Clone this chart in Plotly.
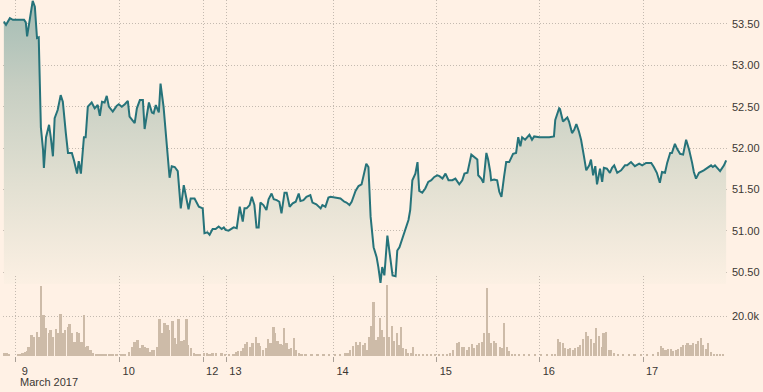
import plotly.graph_objects as go

# ---- data (time in trading hours from 9 March 00:00) ----
price_t = [-2.8,-2.3,-1.4,-0.7,1.9,2.3,2.6,3.2,3.9,4.4,4.9,5.3,5.8,6.3,6.5,7.0,7.7,8.1,8.6,9.0,9.7,10.4,10.9,11.6,12.1,13.0,13.5,14.2,14.6,15.1,15.8,16.2,16.7,17.6,18.3,19.0,19.5,20.0,20.6,21.1,21.6,22.5,23.4,23.9,24.6,25.3,26.0,26.4,27.6,28.1,28.8,29.5,29.9,30.9,31.6,32.0,32.5,33.2,33.6,34.3,35.0,35.7,36.2,36.9,37.6,38.3,39.0,39.7,40.1,40.6,41.5,42.5,43.4,43.8,44.5,45.0,45.7,46.4,47.1,47.8,48.3,48.7,49.4,50.6,51.3,52.0,52.7,53.1,53.6,54.3,54.8,55.4,55.9,56.4,56.8,57.5,58.2,58.7,59.4,59.9,60.6,61.2,61.7,62.4,62.9,63.6,64.3,65.0,65.7,66.1,66.8,67.5,68.4,68.9,69.8,70.8,71.2,71.9,72.6,73.1,74.2,75.4,76.3,76.8,77.5,78.0,78.9,79.6,80.3,81.0,81.4,81.9,82.4,83.1,83.8,84.2,84.7,85.1,85.6,86.3,87.0,87.5,88.2,88.6,89.1,89.8,90.2,90.7,91.2,91.6,92.1,92.8,93.3,93.7,94.4,95.1,95.8,96.5,97.2,97.9,98.4,99.1,99.8,100.5,101.4,102.1,103.0,103.7,104.2,104.9,105.3,105.8,107.2,107.4,108.1,108.6,109.3,109.7,110.2,110.4,111.1,111.8,112.3,112.8,113.4,113.9,114.6,115.1,115.5,116.2,116.7,117.2,117.6,118.3,119.3,119.9,120.4,121.6,122.7,123.9,125.0,125.3,126.2,126.4,127.1,128.1,128.5,129.2,129.7,130.2,130.8,131.3,132.0,132.5,133.2,133.6,134.1,134.6,135.0,135.5,135.7,136.2,136.6,137.3,138.0,138.5,139.0,139.7,140.6,141.5,142.0,142.9,143.8,144.8,145.5,146.4,147.6,148.2,148.9,149.6,150.1,150.8,151.3,152.0,152.4,153.1,153.6,154.3,155.0,155.7,156.4,157.1,157.5,158.0,158.7,159.8,160.8,161.5,161.9,162.4,163.6,164.5,165.0]
price = [53.53,53.49,53.57,53.55,53.55,53.52,53.35,53.55,53.78,53.71,53.33,53.34,52.25,51.98,51.76,52.13,52.28,52.13,51.90,52.36,52.46,52.64,52.56,52.18,51.94,51.94,51.85,51.69,51.84,51.69,52.13,52.13,52.50,52.55,52.48,52.52,52.39,52.56,52.55,52.63,52.50,52.44,52.51,52.53,52.50,52.53,52.57,52.38,52.30,52.48,52.58,52.58,52.23,52.55,52.43,52.42,52.52,52.43,52.78,52.50,52.06,51.64,51.78,51.77,51.72,51.27,51.55,51.39,51.26,51.39,51.39,51.29,51.27,50.97,50.98,50.95,51.02,51.02,51.05,51.02,51.04,51.01,51.00,51.04,51.03,51.29,51.11,51.27,51.27,51.31,51.41,51.31,51.04,51.04,51.34,51.31,51.25,51.38,51.45,51.38,51.37,51.35,51.21,51.46,51.46,51.29,51.33,51.35,51.45,51.36,51.37,51.41,51.43,51.34,51.32,51.27,51.31,51.29,51.40,51.41,51.40,51.39,51.35,51.34,51.31,51.35,51.48,51.54,51.56,51.74,51.81,51.77,51.17,50.80,50.68,50.56,50.37,50.56,50.46,50.94,50.69,50.46,50.45,50.76,50.80,50.91,50.95,51.05,51.13,51.25,51.61,51.69,51.83,51.48,51.46,51.51,51.59,51.61,51.65,51.67,51.66,51.63,51.69,51.61,51.61,51.63,51.56,51.61,51.69,51.70,51.82,51.92,51.86,51.67,51.63,51.58,51.94,51.86,51.71,51.61,51.62,51.61,51.47,51.41,51.65,51.83,51.83,51.89,51.93,51.94,52.13,52.02,52.13,52.10,52.16,52.10,52.14,52.13,52.13,52.13,52.14,52.34,52.48,52.47,52.32,52.37,52.32,52.18,52.22,52.29,52.20,52.10,51.89,51.73,51.79,51.86,51.67,51.78,51.56,51.70,51.75,51.59,51.76,51.75,51.70,51.76,51.79,51.70,51.73,51.79,51.79,51.83,51.78,51.81,51.79,51.82,51.82,51.77,51.70,51.58,51.71,51.70,51.82,51.94,51.94,52.05,51.99,51.93,51.92,52.10,51.98,51.82,51.71,51.63,51.70,51.73,51.76,51.79,51.77,51.79,51.72,51.79,51.85]

vol_t = [-2.6,-2.1,-1.6,0.5,0.9,1.6,2.1,2.6,3.0,3.7,4.2,4.9,5.3,5.9,6.5,7.1,7.7,8.1,8.7,9.3,9.7,10.4,10.9,11.4,12.1,12.5,13.0,13.7,14.2,14.7,15.3,15.8,16.2,16.7,17.4,17.9,18.6,19.0,19.7,20.2,20.9,21.8,22.5,23.4,24.6,25.3,26.4,27.1,27.6,28.3,28.8,29.5,29.9,30.6,31.1,31.8,32.2,32.9,33.4,34.1,34.6,35.3,35.7,36.4,36.9,37.4,37.8,38.5,39.2,39.7,40.1,40.8,41.5,42.0,42.7,43.8,44.5,45.0,45.7,46.6,47.8,48.7,49.6,50.6,51.3,51.7,52.3,52.9,53.4,53.8,54.5,55.0,55.9,56.4,56.8,57.5,58.2,58.7,59.2,59.9,60.3,60.8,61.5,61.9,62.4,62.9,63.6,64.0,64.7,65.2,65.9,66.4,67.3,68.7,70.1,71.5,72.8,74.2,75.4,76.6,77.3,77.7,78.4,79.1,79.6,80.0,80.7,81.2,81.7,82.1,82.6,83.1,83.8,84.2,84.7,85.1,85.6,86.3,86.8,87.5,87.9,88.6,89.1,89.6,90.0,90.7,91.2,91.9,92.3,93.0,93.7,94.7,95.6,96.5,97.4,98.4,99.3,100.2,100.9,101.6,102.5,103.0,103.7,104.2,104.9,105.3,106.0,106.5,107.2,107.6,108.3,108.8,109.5,109.9,110.4,111.1,111.6,112.5,113.0,113.4,114.1,114.6,115.3,116.0,116.9,118.1,119.2,120.6,122.0,123.4,124.6,125.3,126.0,126.4,127.1,127.6,128.3,128.8,129.5,129.9,130.6,131.1,131.8,132.5,132.9,133.6,134.3,134.8,135.5,136.2,136.6,137.1,137.8,138.2,139.0,139.9,141.1,142.5,143.8,145.2,146.6,148.0,149.2,149.9,150.3,151.0,151.5,152.2,152.6,153.4,153.8,154.5,155.0,155.7,156.1,156.8,157.3,158.0,158.5,159.2,159.6,160.3,160.8,161.5,162.2,162.9,163.6,164.3]
volume = [1500,1500,1000,500,500,1500,2000,2500,4500,10500,9500,12000,9500,35000,20500,14000,11500,13000,9500,13500,11500,21000,11500,13000,14500,16000,11500,7000,12000,11500,7000,20500,4500,5000,3000,1500,1000,500,500,500,500,500,500,500,500,500,2000,4500,7000,8000,4000,5500,4500,4000,2000,3000,3000,4500,18500,11500,16500,15500,13000,17500,9000,6000,18500,7500,8000,18500,5500,4000,1500,500,500,1500,1500,1000,1500,1500,1500,500,500,500,2000,2500,2500,4000,6000,7000,4500,6500,9500,6500,5000,3000,4000,8500,6500,14500,11500,7500,6000,5500,14000,6500,3500,4000,9000,3000,1500,1000,500,500,500,500,500,500,500,1500,1500,3000,5000,7000,5500,7000,5500,6500,3000,9500,15000,27000,8000,9500,19000,13000,9500,35500,9500,15000,7500,11500,5500,14500,4000,3500,1500,1500,4500,1000,1000,500,1000,500,500,500,500,1000,1500,3000,6500,7000,4500,4500,3000,4500,6000,4000,5500,6500,7000,11500,34000,11500,6500,7500,6500,4500,4000,16500,4500,2500,1000,1000,500,1000,500,500,500,500,500,1000,8500,7000,6500,4000,3500,4000,3000,4000,4500,5500,8500,12000,10000,8500,6500,14000,10000,4500,11500,12000,3000,3000,1500,500,500,500,500,500,500,500,2000,5000,4000,3000,3500,3500,2500,3000,3500,4500,5500,5500,6500,5500,6500,6000,7500,9000,5500,3500,6500,2000,1000,1000,500,500]

day_tick_t = [0, 24.1, 43.5, 48.9, 73.8, 97.8, 121.7, 145.7]
day_tick_text = ["9", "10", "12", "13", "14", "15", "16", "17"]
month_label = "March 2017"
price_ticks = [50.5, 51.0, 51.5, 52.0, 52.5, 53.0, 53.5]
price_tick_text = ["50.50", "51.00", "51.50", "52.00", "52.50", "53.00", "53.50"]
vol_ticks = [20000]
vol_tick_text = ["20.0k"]

# ---- styling ----
BG = "#fff1e5"
LINE = "#26737a"
GRID = "#c4bab0"
DOTS = "1px,2px"
TXT = "#3b3733"
FONT = "Liberation Sans, Arial, sans-serif"
P_RANGE = [50.355, 53.79]

fig = go.Figure()
fig.add_trace(go.Scatter(x=[price_t[0], price_t[-1]], y=[P_RANGE[0], P_RANGE[0]],
                         mode="lines", line=dict(width=0), showlegend=False, hoverinfo="skip"))
fig.add_trace(go.Scatter(x=price_t, y=price, mode="lines",
                         line=dict(color=LINE, width=2),
                         fill="tonexty",
                         fillgradient=dict(type="vertical",
                                           colorscale=[[0, "rgba(252,240,227,1)"],
                                                       [0.35, "rgba(226,224,210,1)"],
                                                       [0.7, "rgba(198,206,194,1)"],
                                                       [1, "rgba(163,188,180,1)"]],
                                           start=P_RANGE[0], stop=P_RANGE[1]),
                         showlegend=False))
fig.add_trace(go.Bar(x=vol_t, y=volume, yaxis="y2", width=0.42,
                     marker=dict(color="#cdbba8", line=dict(width=0)), showlegend=False))

fig.update_layout(
    width=763, height=392,
    margin=dict(l=3, r=36, t=0, b=36, autoexpand=False),
    paper_bgcolor=BG, plot_bgcolor="rgba(0,0,0,0)",
    font=dict(family=FONT, size=11, color=TXT),
    bargap=0,
    xaxis=dict(range=[-3.0, 165.2], tickvals=day_tick_t, ticktext=day_tick_text,
               ticks="outside", ticklen=5, tickcolor="#a9a097", ticklabelshift=9,
               showgrid=True, gridcolor=GRID, griddash=DOTS, gridwidth=1,
               zeroline=False, showline=False, anchor="y2",
               tickfont=dict(size=11, color=TXT)),
    yaxis=dict(domain=[0.2022, 1], range=P_RANGE, side="right",
               tickvals=price_ticks, ticktext=price_tick_text, ticks="",
               ticklabelstandoff=4,
               showgrid=True, gridcolor=GRID, griddash=DOTS, gridwidth=1,
               zeroline=False, showline=False, tickfont=dict(size=11, color=TXT)),
    yaxis2=dict(domain=[0, 0.2247], range=[0, 40000], side="right", anchor="x",
                tickvals=vol_ticks, ticktext=vol_tick_text, ticks="",
                ticklabelstandoff=4,
                showgrid=True, gridcolor=GRID, griddash=DOTS, gridwidth=1,
                zeroline=False, showline=False, tickfont=dict(size=11, color=TXT)),
    annotations=[dict(text=month_label, x=day_tick_t[0], xref="x", y=0, yref="paper",
                      xanchor="left", yanchor="top", xshift=2, yshift=-18,
                      showarrow=False, font=dict(size=11, color=TXT))],
)

fig.write_html("out.html", config={"displayModeBar": False},
               post_script="document.body.style.margin='0';document.body.style.background='#fff1e5';")
